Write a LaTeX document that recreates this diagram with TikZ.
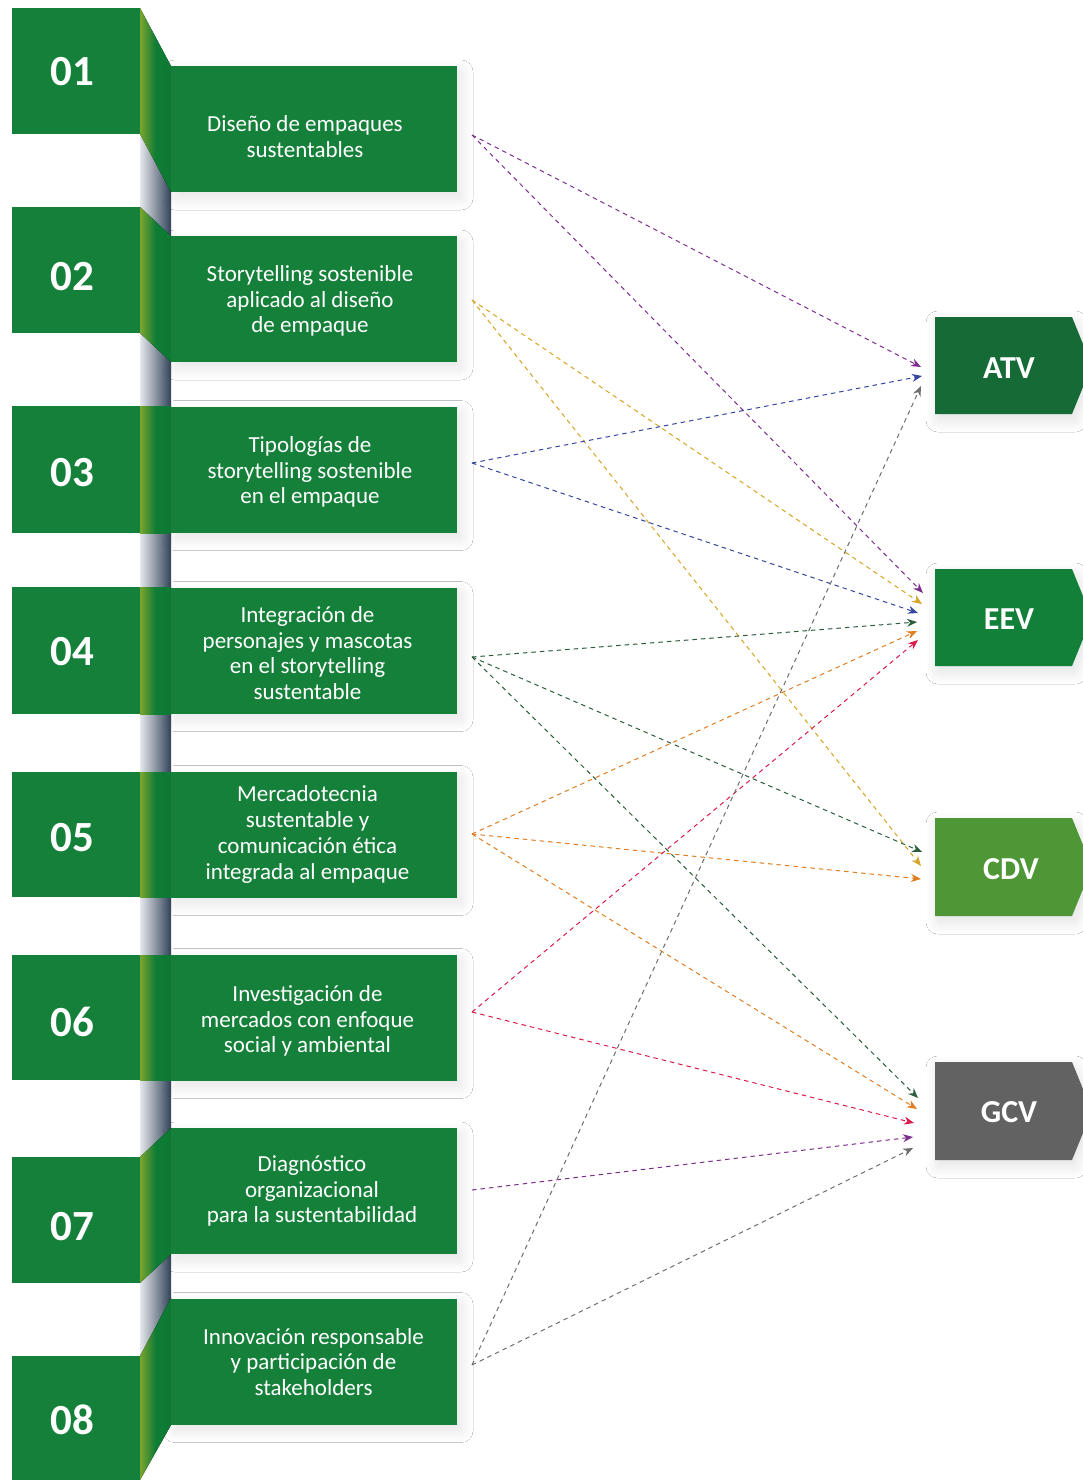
\documentclass[tikz,border=0pt]{standalone}
\usepackage{fontspec}
\setmainfont{Carlito}
\usetikzlibrary{arrows.meta,shadows.blur}
\definecolor{gmain}{HTML}{15803A}
\definecolor{gfold}{HTML}{0F7C36}
\definecolor{golive}{HTML}{7AA52E}
\definecolor{barL}{HTML}{E4E7EB}
\definecolor{barR}{HTML}{33445A}
\definecolor{atvc}{HTML}{166A36}
\definecolor{eevc}{HTML}{128038}
\definecolor{cdvc}{HTML}{4E9636}
\definecolor{gcvc}{HTML}{626262}
\definecolor{cpur}{HTML}{7D2E8F}
\definecolor{cyel}{HTML}{D6A424}
\definecolor{cblu}{HTML}{3446A0}
\definecolor{cgrn}{HTML}{2B5E3C}
\definecolor{cora}{HTML}{E07D22}
\definecolor{cred}{HTML}{D91C4C}
\definecolor{cgry}{HTML}{6E6E6E}
\begin{document}
\begin{tikzpicture}[x=1pt,y=-1pt,
  tab/.style={inner sep=0pt,text=white,font=\fontsize{43}{45}\selectfont\bfseries},
  srcbox/.style={fill=gmain,inner sep=0pt,minimum width=286pt,minimum height=126pt,
     blur shadow={shadow xshift=4pt,shadow yshift=-6pt,shadow blur radius=12pt,shadow blur steps=40,shadow opacity=11}},
  srctext/.style={text=white,align=center,font=\fontsize{23}{25.7}\selectfont},
  fold/.style={left color=golive,right color=gfold,middle color=gfold},
  tgt/.style={blur shadow={shadow xshift=3pt,shadow yshift=-6pt,shadow blur radius=12pt,shadow blur steps=40,shadow opacity=12}},
  tgttext/.style={text=white,font=\fontsize{32}{34}\selectfont\bfseries},
  conn/.style={dash pattern=on 4.5pt off 4pt,line width=1pt,-{Stealth[length=10pt,width=8pt]}}
]
\useasboundingbox (0,0) rectangle (1083,1480);
\fill[white] (0,0) rectangle (1083,1480);

% vertical bar
\fill[left color=barL,right color=barR] (140,130) rectangle (171,1360);

% folds
\fill[fold] (140,8) -- (171,66) -- (171,192) -- (140,134) -- cycle;
\fill[fold] (140,207) -- (171,236) -- (171,362) -- (140,333) -- cycle;
\fill[fold] (140,406) rectangle (171,533);
\fill[fold] (140,587) rectangle (171,714);
\fill[fold] (140,772) rectangle (171,897);
\fill[fold] (140,955) rectangle (171,1080);
\fill[fold] (140,1157) -- (171,1128) -- (171,1254) -- (140,1283) -- cycle;
\fill[fold] (140,1356) -- (171,1298) -- (171,1425) -- (140,1480) -- cycle;

% number tabs
\fill[gmain] (12,8) rectangle (140,134);
\fill[gmain] (12,207) rectangle (140,333);
\fill[gmain] (12,406) rectangle (140,533);
\fill[gmain] (12,587) rectangle (140,714);
\fill[gmain] (12,772) rectangle (140,897);
\fill[gmain] (12,955) rectangle (140,1080);
\fill[gmain] (12,1157) rectangle (140,1283);
\fill[gmain] (12,1356) rectangle (140,1480);
\node[tab] (n1) at (72,72) {01};
\node[tab] (n2) at (72,277) {02};
\node[tab] (n3) at (72,473) {03};
\node[tab] (n4) at (72,652) {04};
\node[tab] (n5) at (72,838) {05};
\node[tab] (n6) at (72,1022) {06};
\node[tab] (n7) at (72,1227) {07};
\node[tab] (n8) at (72,1420) {08};

% source boxes
\node[srcbox] (b1) at (314,129) {};
\node[srcbox] (b2) at (314,299) {};
\node[srcbox] (b3) at (314,469.5) {};
\node[srcbox] (b4) at (314,650.5) {};
\node[srcbox] (b5) at (314,834.5) {};
\node[srcbox] (b6) at (314,1017.5) {};
\node[srcbox] (b7) at (314,1191) {};
\node[srcbox] (b8) at (314,1361.5) {};
\node[srctext] (t1) at (305,136.5) {Diseño de empaques\\sustentables};
\node[srctext] (t2) at (310,301) {Storytelling sostenible\\aplicado al diseño\\de empaque};
\node[srctext] (t3) at (310,472) {Tipologías de\\storytelling sostenible\\en el empaque};
\node[srctext] (t4) at (307.5,653) {Integración de\\personajes y mascotas\\en el storytelling\\sustentable};
\node[srctext] (t5) at (307.5,834.5) {Mercadotecnia\\sustentable y\\comunicación ética\\integrada al empaque};
\node[srctext] (t6) at (307.5,1021) {Investigación de\\mercados con enfoque\\social y ambiental};
\node[srctext] (t7) at (312,1191) {Diagnóstico\\organizacional\\para la sustentabilidad};
\node[srctext] (t8) at (313.5,1362) {Innovación responsable\\y participación de\\stakeholders};

% target boxes
\fill[atvc,tgt] (935,317) -- (1072,317) -- (1083,344) -- (1083,387) -- (1072,414) -- (935,414) -- cycle;
\fill[eevc,tgt] (935,569) -- (1072,569) -- (1083,596) -- (1083,639) -- (1072,666) -- (935,666) -- cycle;
\fill[cdvc,tgt] (935,818) -- (1072,818) -- (1083,845) -- (1083,889) -- (1072,916) -- (935,916) -- cycle;
\fill[gcvc,tgt] (935,1062) -- (1072,1062) -- (1083,1089) -- (1083,1133) -- (1072,1160) -- (935,1160) -- cycle;
\node[tgttext] (atv) at (1009,368) {ATV};
\node[tgttext] (eev) at (1009,619) {EEV};
\node[tgttext] (cdv) at (1011,869) {CDV};
\node[tgttext] (gcv) at (1009,1112) {GCV};

% connector ends
\coordinate (s1) at (472,135);
\coordinate (s2) at (472,300);
\coordinate (s3) at (472,463);
\coordinate (s4) at (472,657);
\coordinate (s5) at (472,834);
\coordinate (s6) at (472,1012);
\coordinate (s7) at (472,1190);
\coordinate (s8) at (472,1365);
\coordinate (a1) at (921,367);
\coordinate (a2) at (922,376);
\coordinate (a3) at (921,386);
\coordinate (e1) at (923,593);
\coordinate (e2) at (922,604);
\coordinate (e3) at (918,613);
\coordinate (e4) at (917,622);
\coordinate (e5) at (917,631);
\coordinate (e6) at (918,640);
\coordinate (c1) at (922,852);
\coordinate (c2) at (921,866);
\coordinate (c3) at (921,879);
\coordinate (g1) at (918,1098);
\coordinate (g2) at (917,1109);
\coordinate (g3) at (914,1123);
\coordinate (g4) at (913,1137);
\coordinate (g5) at (913,1148);

% connectors
\draw[conn,cpur] (s1) -- (a1);
\draw[conn,cpur] (s1) -- (e1);
\draw[conn,cyel] (s2) -- (e2);
\draw[conn,cyel] (s2) -- (c2);
\draw[conn,cblu] (s3) -- (a2);
\draw[conn,cblu] (s3) -- (e3);
\draw[conn,cgrn] (s4) -- (e4);
\draw[conn,cgrn] (s4) -- (c1);
\draw[conn,cgrn] (s4) -- (g1);
\draw[conn,cora] (s5) -- (e5);
\draw[conn,cora] (s5) -- (c3);
\draw[conn,cora] (s5) -- (g2);
\draw[conn,cred] (s6) -- (e6);
\draw[conn,cred] (s6) -- (g3);
\draw[conn,cpur] (s7) -- (g4);
\draw[conn,cgry] (s8) -- (a3);
\draw[conn,cgry] (s8) -- (g5);
\end{tikzpicture}
\end{document}
